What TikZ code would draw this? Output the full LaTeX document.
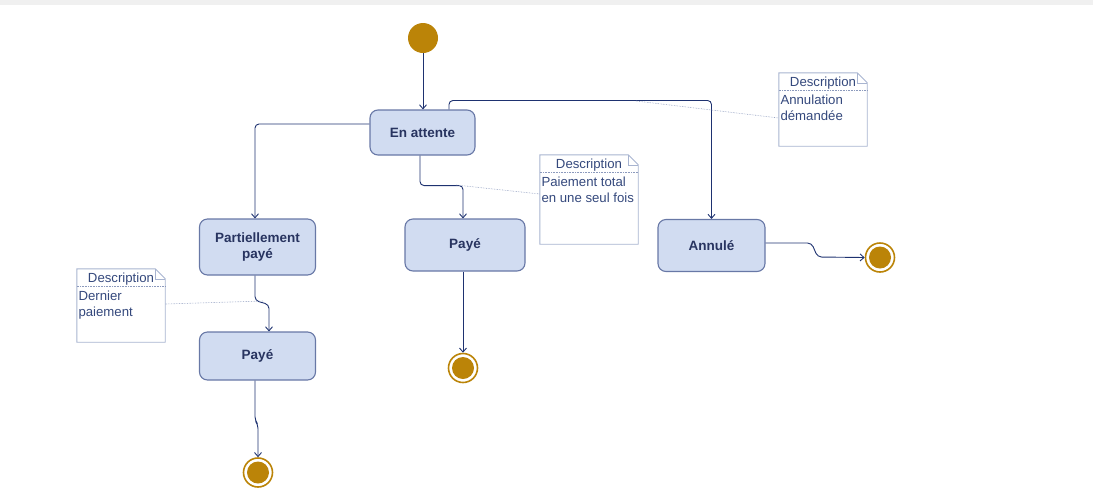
\documentclass[tikz,border=0pt]{standalone}
\usepackage{fontspec}
\setmainfont{Liberation Sans}
\usetikzlibrary{arrows.meta,positioning}
\definecolor{etatfond}{RGB}{209,220,241}
\definecolor{etatbord}{RGB}{104,120,166}
\definecolor{etattexte}{RGB}{40,52,96}
\definecolor{lienbleu}{RGB}{30,50,112}
\definecolor{pastille}{RGB}{187,132,8}
\definecolor{notebord}{RGB}{168,180,208}
\definecolor{notetexte}{RGB}{52,72,124}
\definecolor{bande}{RGB}{240,240,240}
\begin{document}
\begin{tikzpicture}[x=1pt,y=-1pt]

    \tikzset{
      etat/.style={
        draw=etatbord,
        fill=etatfond,
        line width=1.1pt,
        rounded corners=8pt,
        text=etattexte,
        font=\bfseries\fontsize{13.5}{16}\selectfont,
        align=center,
        inner sep=0pt,
      },
      debut/.style={circle,fill=pastille,minimum size=30pt,inner sep=0pt},
      fin/.style={circle,draw=pastille,line width=1.6pt,minimum size=29pt,inner sep=0pt},
      lien/.style={color=lienbleu,line width=0.9pt,rounded corners=4pt,-{Straight Barb[length=4pt,width=7pt]}},
      note/.style={draw=none,minimum width=88pt,minimum height=73pt,inner sep=0pt},
      notetitre/.style={text=notetexte,font=\fontsize{13.2}{15}\selectfont,inner sep=0pt},
      notecorps/.style={text=notetexte,font=\fontsize{13.2}{16}\selectfont,align=left,inner sep=0pt,anchor=north west},
      notelien/.style={color=notebord!80!lienbleu,densely dotted,line width=0.6pt},
    }
    \useasboundingbox (0,0) rectangle (1093,499);
    \fill[bande] (0,0) rectangle (1093,5);

	% etats
	\node[debut] (debut) at (423,38) {};
	\node[etat,minimum width=105pt,minimum height=45pt] (attente) at (422.5,132.5) {En attente};
	\node[etat,minimum width=116pt,minimum height=56pt] (partiel) at (257.5,247) {Partiellement\\payé};
	\node[etat,minimum width=120pt,minimum height=52pt] (paye1) at (465,245) {Payé};
	\node[etat,minimum width=107pt,minimum height=52pt] (annule) at (711.5,245.5) {Annulé};
	\node[etat,minimum width=116pt,minimum height=48pt] (paye2) at (257.5,356) {Payé};
	\node[fin] (fin1) at (880,257.5) {};
	\node[fin] (fin2) at (463,368) {};
	\node[fin] (fin3) at (258,472.5) {};
	\fill[pastille] (fin1.center) circle (11);
	\fill[pastille] (fin2.center) circle (11);
	\fill[pastille] (fin3.center) circle (11);

	% transitions
	\draw[lien] (debut.south) -- (debut.south |- attente.north);
	\draw[lien] ([yshift=8.5pt]attente.west) -| ([xshift=-2.5pt]partiel.north);
	\draw[lien] ([xshift=-2.5pt]attente.south) -- ++(0,30) -| ([xshift=-2pt]paye1.north);
	\draw[lien] ([xshift=26.5pt]attente.north) -- ++(0,-9) -| (annule.north);
	\draw[lien] ([xshift=-2.5pt]partiel.south) -- ++(0,25) -- ++(14,4) -- ([xshift=11.5pt]paye2.north);
	\draw[lien] ([xshift=-2.5pt]paye2.south) -- ++(0,40) -- ++(3,4) -- (fin3.north);
	\draw[lien] ([xshift=-2pt]paye1.south) -- (fin2.north);
	\draw[lien] ([yshift=2.5pt]annule.east) -- ++(46,0) -- ++(6,14) -- (fin1.west);

	% notes
	\node[note,minimum width=98pt,minimum height=89pt] (n1) at (589,199.5) {};
	\node[note] (n2) at (823,109.5) {};
	\node[note] (n3) at (121,305.5) {};
	\foreach \n in {n1,n2,n3}{
	  \draw[notebord,line width=0.9pt] (\n.north west) -- ([xshift=-10pt]\n.north east) -- ([yshift=-10pt]\n.north east) -- (\n.south east) -- (\n.south west) -- cycle;
	  \draw[notebord,line width=0.6pt] ([xshift=-10pt]\n.north east) -- ([xshift=-10pt,yshift=-10pt]\n.north east) -- ([yshift=-10pt]\n.north east);
	  \draw[notelien] ([yshift=-17.5pt]\n.north west) -- ([yshift=-17.5pt]\n.north east);
	  \node[notetitre] (\n t) at ([yshift=-10pt]\n.north) {Description};
	}
	\node[notecorps] (n1c) at ([xshift=1.5pt,yshift=-22pt]n1.north west) {Paiement total\\en une seul fois};
	\node[notecorps] (n2c) at ([xshift=1.5pt,yshift=-22pt]n2.north west) {Annulation\\démandée};
	\node[notecorps] (n3c) at ([xshift=1.5pt,yshift=-22pt]n3.north west) {Dernier\\paiement};

	% liens des notes
	\coordinate (k1) at (456,185);
	\coordinate (k2) at (636,101);
	\coordinate (k3) at (263,301);
	\draw[notelien] (k1) -- ([yshift=5.5pt]n1.west);
	\draw[notelien] (k2) -- ([yshift=-8.5pt]n2.west);
	\draw[notelien] (k3) -- ([yshift=1.5pt]n3.east);

\end{tikzpicture}
\end{document}
